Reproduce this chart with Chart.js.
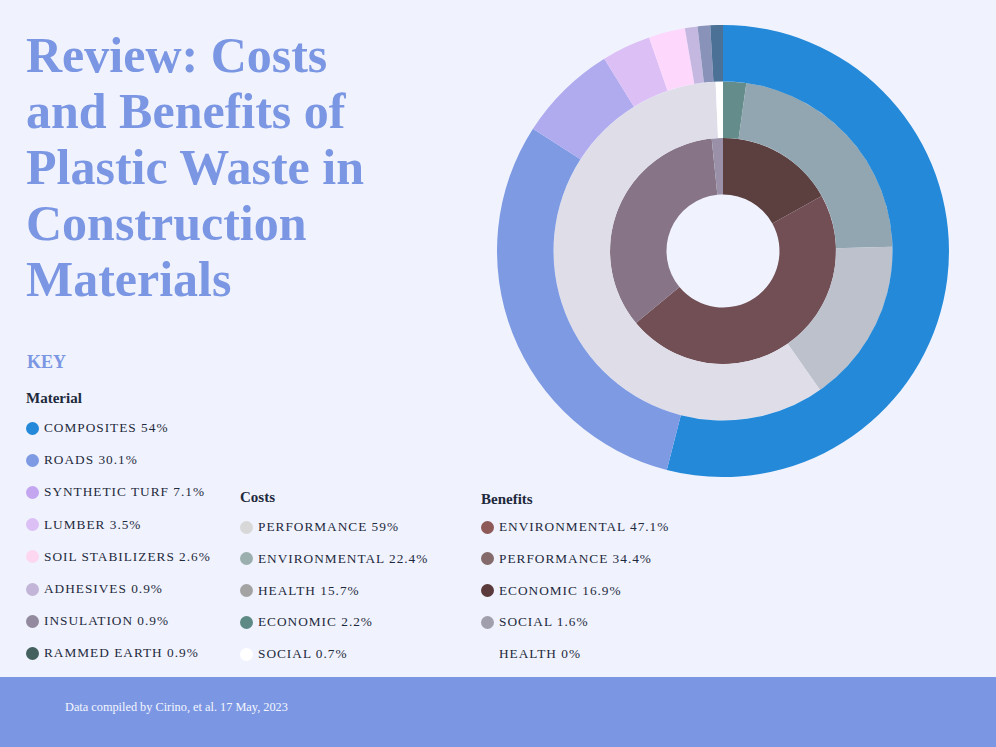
<!DOCTYPE html>
<html>
<head>
<meta charset="utf-8">
<script src="https://cdn.jsdelivr.net/npm/chart.js@4.4.0/dist/chart.umd.min.js"></script>
<style>
  html, body { margin: 0; padding: 0; }
  body {
    width: 996px; height: 747px; position: relative; overflow: hidden;
    background: #f0f3fe; font-family: "Liberation Serif", "DejaVu Serif", serif; color: #1e2a3c;
  }
  #title {
    position: absolute; left: 26px; top: 27px; margin: 0;
    font-size: 50px; line-height: 56px; font-weight: bold; color: #7b96e2;
  }
  .head { position: absolute; font-weight: bold; }
  #key { left: 27px; top: 352px; font-size: 18px; color: #7b96e2; }
  .row { position: absolute; height: 20px; display: flex; align-items: center; white-space: nowrap;
         font-size: 13.3px; letter-spacing: 1px; }
  .dot { width: 13px; height: 13px; border-radius: 50%; margin-right: 5px; flex: none; }
  #chartBox { position: absolute; left: 497px; top: 25px; width: 452px; height: 452px; }
  #footer { position: absolute; left: 0; top: 677px; width: 996px; height: 70px; background: #7b96e2; }
  #footer span { position: absolute; left: 65px; top: 23px; font-size: 12.3px; color: #f4f6ff; }
</style>
</head>
<body>
<h1 id="title">Review: Costs<br>and Benefits of<br>Plastic Waste in<br>Construction<br>Materials</h1>
<div class="head" id="key">KEY</div>
<div id="legends"></div>
<div id="chartBox"><canvas id="donut"></canvas></div>
<div id="footer"><span>Data compiled by Cirino, et al. 17 May, 2023</span></div>

<script>
// ---- data (legend order) ----
const materialLabels = ['COMPOSITES', 'ROADS', 'SYNTHETIC TURF', 'LUMBER', 'SOIL STABILIZERS', 'ADHESIVES', 'INSULATION', 'RAMMED EARTH'];
const materialValues = [54, 30.1, 7.1, 3.5, 2.6, 0.9, 0.9, 0.9];
const materialArc = ['#2389d8', '#7d9ae3', '#b0abee', '#dcc0f5', '#fed7fc', '#c5b8e0', '#8992b9', '#4c7196'];
const materialDot = ['#2389d8', '#7d9ae3', '#c4a6f0', '#dcc0f5', '#fcd7ef', '#c2b5d8', '#948aa0', '#43605e'];

const costLabels = ['PERFORMANCE', 'ENVIRONMENTAL', 'HEALTH', 'ECONOMIC', 'SOCIAL'];
const costValues = [59, 22.4, 15.7, 2.2, 0.7];
const costArc = ['#dfdee8', '#91a6b0', '#bcc1cc', '#648c8a', '#ffffff'];
const costDot = ['#d8d8d8', '#9aafae', '#a3a3a3', '#5d8a85', '#ffffff'];
const costPieOrder = ['ECONOMIC', 'ENVIRONMENTAL', 'HEALTH', 'PERFORMANCE', 'SOCIAL'];

const benefitLabels = ['ENVIRONMENTAL', 'PERFORMANCE', 'ECONOMIC', 'SOCIAL', 'HEALTH'];
const benefitValues = [47.1, 34.4, 16.9, 1.6, 0];
const benefitArc = ['#714f55', '#877587', '#5c3f3f', '#9a91a8', '#f0f3fe'];
const benefitDot = ['#8e5a58', '#846a6a', '#5a3a3a', '#a29fac', 'transparent'];
const benefitPieOrder = ['ECONOMIC', 'ENVIRONMENTAL', 'PERFORMANCE', 'SOCIAL', 'HEALTH'];

// ---- html legend ----
function buildLegend(title, x, headY, firstY, step, labels, values, dots) {
  const host = document.getElementById('legends');
  const h = document.createElement('div');
  h.className = 'head';
  h.style.cssText = `left:${x - 6}px;top:${headY}px;font-size:15px;`;
  h.textContent = title;
  host.appendChild(h);
  labels.forEach((lab, i) => {
    const r = document.createElement('div');
    r.className = 'row';
    r.style.left = (x - 6) + 'px';
    r.style.top = (firstY + i * step - 10) + 'px';
    r.innerHTML = `<span class="dot" style="background:${dots[i]}"></span><span>${lab} ${values[i]}%</span>`;
    host.appendChild(r);
  });
}
buildLegend('Material', 32, 390, 428, 32.2, materialLabels, materialValues, materialDot);
buildLegend('Costs', 246, 489, 527, 31.8, costLabels, costValues, costDot);
buildLegend('Benefits', 487, 491, 527, 31.8, benefitLabels, benefitValues, benefitDot);

// ---- reorder for the rings ----
function pick(order, labels, arr) {
  return order.map(l => arr[labels.indexOf(l)]);
}

new Chart(document.getElementById('donut'), {
  type: 'doughnut',
  data: {
    labels: materialLabels,
    datasets: [
      { label: 'Material', data: materialValues, backgroundColor: materialArc },
      { label: 'Costs', data: pick(costPieOrder, costLabels, costValues),
        backgroundColor: pick(costPieOrder, costLabels, costArc) },
      { label: 'Benefits', data: pick(benefitPieOrder, benefitLabels, benefitValues),
        backgroundColor: pick(benefitPieOrder, benefitLabels, benefitArc) }
    ]
  },
  options: {
    responsive: true,
    maintainAspectRatio: false,
    animation: false,
    cutout: '25%',
    layout: { padding: 0 },
    elements: { arc: { borderWidth: 0, hoverOffset: 0, offset: 0 } },
    plugins: {
      legend: { display: false },
      tooltip: { enabled: false }
    }
  }
});
</script>
</body>
</html>
